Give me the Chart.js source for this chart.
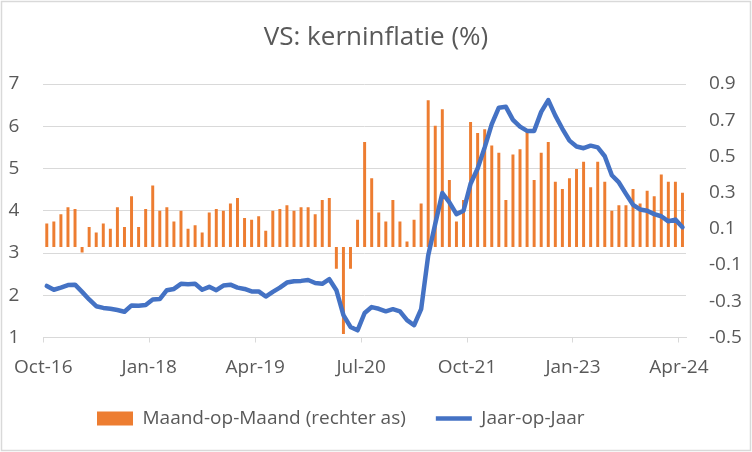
<!DOCTYPE html>
<html lang="nl">
  <head>
    <title>VS: kerninflatie</title>
    <meta charset="UTF-8" />
    <style>
      body { margin: 0; background: #fff; }
      canvas { display: block; }
    </style>
  </head>
  <body>
    <canvas id="myChart" width="752" height="452"></canvas>
    <script src="https://cdn.jsdelivr.net/npm/chart.js@4"></script>
    <script>
      // maanden okt-16 t/m apr-24
      var months = [
        "Oct-16", "Nov-16", "Dec-16",
        "Jan-17", "Feb-17", "Mar-17", "Apr-17", "May-17", "Jun-17", "Jul-17", "Aug-17", "Sep-17", "Oct-17", "Nov-17", "Dec-17",
        "Jan-18", "Feb-18", "Mar-18", "Apr-18", "May-18", "Jun-18", "Jul-18", "Aug-18", "Sep-18", "Oct-18", "Nov-18", "Dec-18",
        "Jan-19", "Feb-19", "Mar-19", "Apr-19", "May-19", "Jun-19", "Jul-19", "Aug-19", "Sep-19", "Oct-19", "Nov-19", "Dec-19",
        "Jan-20", "Feb-20", "Mar-20", "Apr-20", "May-20", "Jun-20", "Jul-20", "Aug-20", "Sep-20", "Oct-20", "Nov-20", "Dec-20",
        "Jan-21", "Feb-21", "Mar-21", "Apr-21", "May-21", "Jun-21", "Jul-21", "Aug-21", "Sep-21", "Oct-21", "Nov-21", "Dec-21",
        "Jan-22", "Feb-22", "Mar-22", "Apr-22", "May-22", "Jun-22", "Jul-22", "Aug-22", "Sep-22", "Oct-22", "Nov-22", "Dec-22",
        "Jan-23", "Feb-23", "Mar-23", "Apr-23", "May-23", "Jun-23", "Jul-23", "Aug-23", "Sep-23", "Oct-23", "Nov-23", "Dec-23",
        "Jan-24", "Feb-24", "Mar-24", "Apr-24"
      ];

      // maand-op-maand (rechter as)
      var mom = [
        0.13, 0.14, 0.18,
        0.22, 0.21, -0.03, 0.11, 0.08, 0.13, 0.10, 0.22, 0.11, 0.28, 0.11, 0.21,
        0.34, 0.20, 0.22, 0.14, 0.20, 0.10, 0.12, 0.08, 0.19, 0.21, 0.20, 0.24,
        0.27, 0.16, 0.15, 0.17, 0.09, 0.20, 0.21, 0.23, 0.20, 0.22, 0.22, 0.18,
        0.26, 0.27, -0.12, -0.48, -0.12, 0.15, 0.58, 0.38, 0.19, 0.14, 0.26, 0.14,
        0.03, 0.15, 0.24, 0.81, 0.67, 0.76, 0.37, 0.14, 0.26, 0.69, 0.63, 0.65,
        0.56, 0.52, 0.26, 0.51, 0.54, 0.64, 0.37, 0.52, 0.58, 0.36, 0.32, 0.38,
        0.43, 0.47, 0.33, 0.47, 0.36, 0.20, 0.23, 0.23, 0.32, 0.24, 0.31, 0.28,
        0.40, 0.36, 0.36, 0.30
      ];

      // jaar-op-jaar (linker as)
      var yoy = [
        2.22, 2.13, 2.18,
        2.24, 2.25, 2.08, 1.90, 1.74, 1.70, 1.68, 1.65, 1.61, 1.76, 1.75, 1.77,
        1.90, 1.91, 2.12, 2.15, 2.27, 2.26, 2.27, 2.13, 2.20, 2.12, 2.23, 2.25,
        2.18, 2.15, 2.09, 2.09, 1.97, 2.08, 2.18, 2.30, 2.33, 2.34, 2.36, 2.29,
        2.27, 2.38, 2.12, 1.53, 1.25, 1.17, 1.58, 1.72, 1.68, 1.62, 1.67, 1.62,
        1.41, 1.29, 1.67, 2.94, 3.69, 4.42, 4.20, 3.92, 4.00, 4.64, 5.00, 5.50,
        6.05, 6.44, 6.46, 6.15, 5.99, 5.89, 5.89, 6.34, 6.62, 6.25, 5.94, 5.66,
        5.52, 5.48, 5.54, 5.50, 5.29, 4.84, 4.67, 4.40, 4.14, 4.03, 4.00, 3.92,
        3.87, 3.75, 3.79, 3.61
      ];

      var tickLabels = ["Oct-16", "Jan-18", "Apr-19", "Jul-20", "Oct-21", "Jan-23", "Apr-24"];
      var leftTicks = [1, 2, 3, 4, 5, 6, 7];
      var rightTicks = [-0.5, -0.3, -0.1, 0.1, 0.3, 0.5, 0.7, 0.9];
      var seriesNames = ["Maand-op-Maand (rechter as)", "Jaar-op-Jaar"];

      var orange = "#ED7D31";
      var blue = "#4472C4";
      var grey = "#595959";
      var gridGrey = "#d9d9d9";
      var fontFam = "'Open Sans', sans-serif";

      // label op de grens links van de maand
      var tickPos = tickLabels.map(function (t) {
        return months.indexOf(t) - 0.5;
      });

      var borderPlugin = {
        id: "chartBorder",
        afterLayout: function (chart) {
          // legenda iets naar links, zoals in Excel
          if (chart.legend) {
            chart.legend.left = 67;
          }
        },
        afterDraw: function (chart) {
          var c = chart.ctx;
          c.save();
          c.strokeStyle = gridGrey;
          c.lineWidth = 1.5;
          c.strokeRect(1.5, 1.5, chart.width - 3, chart.height - 3);
          c.restore();
        },
      };

      var ctx = document.getElementById("myChart");
      var myChart = new Chart(ctx, {
        type: "bar",
        data: {
          datasets: [
            {
              type: "bar",
              label: seriesNames[0],
              data: mom.map(function (v, i) { return { x: i, y: v }; }),
              backgroundColor: orange,
              yAxisID: "y1",
              barPercentage: 0.42,
              categoryPercentage: 1,
              order: 1,
            },
            {
              type: "line",
              label: seriesNames[1],
              data: yoy.map(function (v, i) { return { x: i, y: v }; }),
              borderColor: blue,
              borderWidth: 4.5,
              pointRadius: 0,
              borderJoinStyle: "round",
              borderCapStyle: "round",
              tension: 0,
              yAxisID: "y",
              order: 0,
            },
          ],
        },
        options: {
          responsive: false,
          animation: false,
          layout: { padding: { left: 0, right: 0, top: 0, bottom: 14 } },
          scales: {
            x: {
              type: "linear",
              offset: false,
              min: -0.5,
              max: months.length - 0.5,
              afterBuildTicks: function (scale) {
                scale.ticks = tickPos.map(function (p) { return { value: p }; });
              },
              afterFit: function (scale) {
                scale.height = 41.5;
              },
              ticks: {
                autoSkip: false,
                maxRotation: 0,
                padding: 14,
                color: grey,
                font: { family: fontFam, size: 19 },
                callback: function (val, idx) {
                  return tickLabels[idx];
                },
              },
              grid: {
                offset: false,
                drawOnChartArea: false,
                drawTicks: true,
                tickLength: 5,
                color: gridGrey,
              },
              border: { display: true, color: gridGrey },
            },
            y: {
              position: "left",
              min: 1,
              max: 7,
              afterBuildTicks: function (scale) {
                scale.ticks = leftTicks.map(function (v) { return { value: v }; });
              },
              afterFit: function (scale) {
                scale.width = 41;
              },
              ticks: {
                padding: 24,
                color: grey,
                font: { family: fontFam, size: 19 },
              },
              grid: { color: gridGrey, drawTicks: false },
              border: { display: false },
            },
            y1: {
              position: "right",
              min: -0.5,
              max: 0.9,
              afterBuildTicks: function (scale) {
                scale.ticks = rightTicks.map(function (v) { return { value: v }; });
              },
              afterFit: function (scale) {
                scale.width = 66;
              },
              ticks: {
                padding: 23,
                color: grey,
                font: { family: fontFam, size: 19 },
                callback: function (v) {
                  return v.toFixed(1);
                },
              },
              grid: { display: false, drawTicks: false },
              border: { display: false },
            },
          },
          plugins: {
            title: {
              display: true,
              text: "VS: kerninflatie (%)",
              color: grey,
              font: { family: fontFam, size: 26, weight: "normal" },
              padding: { top: 22, bottom: 30.8 },
            },
            legend: {
              position: "bottom",
              align: "start",
              labels: {
                usePointStyle: true,
                pointStyleWidth: 36,
                boxHeight: 14,
                padding: 30,
                color: grey,
                font: { family: fontFam, size: 19 },
                generateLabels: function () {
                  return [
                    { text: seriesNames[0], fillStyle: orange, strokeStyle: orange, lineWidth: 0, pointStyle: "rect", datasetIndex: 0, fontColor: grey },
                    { text: seriesNames[1], fillStyle: "rgba(0,0,0,0)", strokeStyle: blue, lineWidth: 4.5, pointStyle: "line", datasetIndex: 1, fontColor: grey },
                  ];
                },
              },
            },
            tooltip: { enabled: false },
          },
        },
        plugins: [borderPlugin],
      });
    </script>
  </body>
</html>
